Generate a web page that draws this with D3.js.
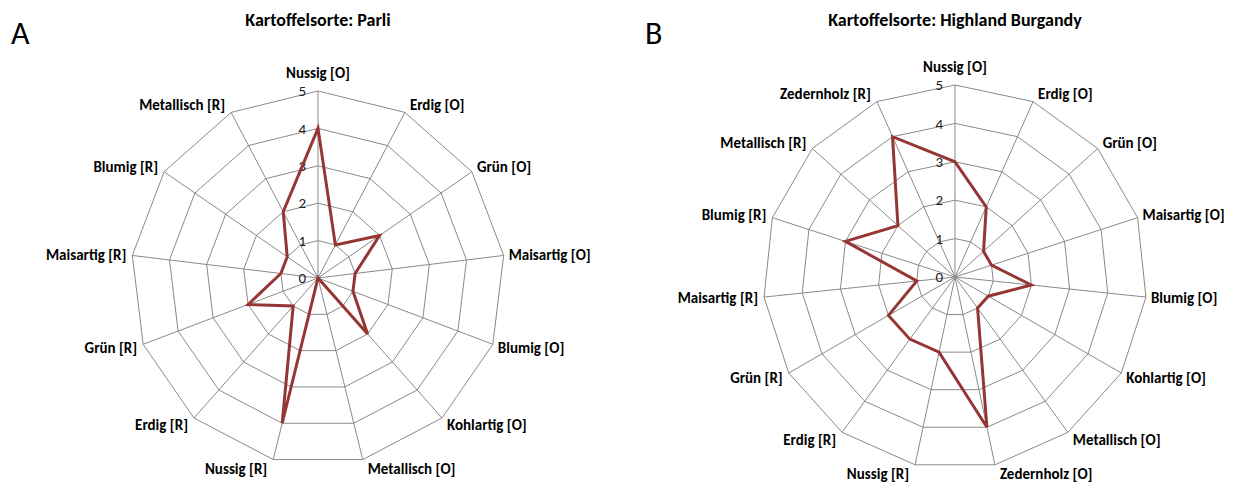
<!DOCTYPE html>
<html>
<head>
<meta charset="utf-8">
<script src="https://cdn.jsdelivr.net/npm/d3@7"></script>
<style>
  body { margin: 0; background: #fff; }
  svg { display: block; font-family: Carlito, Lato, "Open Sans", sans-serif; }
</style>
</head>
<body>
<div id="chart"></div>
<script>
// data
const ticks = [0, 1, 2, 3, 4, 5];

const axesA = ["Nussig [O]", "Erdig [O]", "Grün [O]", "Maisartig [O]", "Blumig [O]", "Kohlartig [O]",
  "Metallisch [O]", "Nussig [R]", "Erdig [R]", "Grün [R]", "Maisartig [R]", "Blumig [R]", "Metallisch [R]"];
const valuesA = [4, 1, 2, 1, 1, 2, 0, 4, 1, 2, 1, 1, 2];

const axesB = ["Nussig [O]", "Erdig [O]", "Grün [O]", "Maisartig [O]", "Blumig [O]", "Kohlartig [O]",
  "Metallisch [O]", "Zedernholz [O]", "Nussig [R]", "Erdig [R]", "Grün [R]", "Maisartig [R]",
  "Blumig [R]", "Metallisch [R]", "Zedernholz [R]"];
const valuesB = [3, 2, 1, 1, 2, 1, 1, 4, 2, 2, 2, 1, 3, 2, 4];

const W = 1245, H = 485;
const svg = d3.select("#chart").append("svg")
  .attr("width", W)
  .attr("height", H);

function drawRadar(opts) {
  const { cx, cy, R, axes, values, title, letter, letterX } = opts;
  const n = axes.length;

  const r = d3.scaleLinear().domain([0, d3.max(ticks)]).range([0, R]);
  const angle = d3.scaleLinear().domain([0, n]).range([0, 2 * Math.PI]);

  svg.append("text")
    .attr("x", letterX)
    .attr("y", 44)
    .style("font-size", "32px")
    .style("fill", "#000")
    .text(letter);

  svg.append("text")
    .attr("x", cx)
    .attr("y", 26)
    .attr("text-anchor", "middle")
    .style("font-size", "18px")
    .style("font-weight", "bold")
    .style("fill", "#000")
    .text(title);

  const g = svg.append("g").attr("transform", `translate(${cx},${cy})`);

  // rings
  const ring = d3.lineRadial()
    .angle((d, i) => angle(i))
    .radius(d => r(d))
    .curve(d3.curveLinearClosed);

  g.selectAll(".ring")
    .data(ticks.filter(t => t > 0))
    .enter()
    .append("path")
    .attr("class", "ring")
    .attr("d", t => ring(axes.map(() => t)))
    .attr("fill", "none")
    .attr("stroke", "#8a8a8a")
    .attr("stroke-width", 1);

  // spokes
  g.selectAll(".spoke")
    .data(axes)
    .enter()
    .append("line")
    .attr("class", "spoke")
    .attr("x1", 0).attr("y1", 0)
    .attr("x2", (d, i) => r(5) * Math.sin(angle(i)))
    .attr("y2", (d, i) => -r(5) * Math.cos(angle(i)))
    .attr("stroke", "#8a8a8a")
    .attr("stroke-width", 1);

  // tick labels
  g.selectAll(".tick-label")
    .data(ticks)
    .enter()
    .append("text")
    .attr("class", "tick-label")
    .attr("x", -12)
    .attr("y", d => -r(d))
    .attr("dy", "0.35em")
    .attr("text-anchor", "end")
    .style("font-size", "15px")
    .style("fill", "#222")
    .text(d => d);

  // series
  g.append("path")
    .datum(values)
    .attr("d", ring)
    .attr("fill", "none")
    .attr("stroke", "#963634")
    .attr("stroke-width", 3)
    .attr("stroke-linejoin", "miter");

  // axis labels
  g.selectAll(".axis-label")
    .data(axes)
    .enter()
    .append("text")
    .attr("class", "axis-label")
    .each(function(d, i) {
      const a = angle(i);
      const s = Math.sin(a), c = Math.cos(a);
      const ex = r(5) * s, ey = -r(5) * c;
      const mid = Math.abs(s) < 0.05;
      const anchor = mid ? "middle" : (s > 0 ? "start" : "end");
      const x = ex + (mid ? 0 : (s > 0 ? 5 : -6));
      const y = ey - c * (mid ? 18 : 9);
      d3.select(this)
        .attr("x", x)
        .attr("y", y)
        .attr("dy", "0.35em")
        .attr("text-anchor", anchor)
        .style("font-size", "15px")
        .style("font-weight", "bold")
        .style("fill", "#000")
        .text(d);
    });
}

drawRadar({ cx: 318, cy: 278, R: 187, axes: axesA, values: valuesA,
  title: "Kartoffelsorte: Parli", letter: "A", letterX: 11 });
drawRadar({ cx: 955, cy: 277, R: 192, axes: axesB, values: valuesB,
  title: "Kartoffelsorte: Highland Burgandy", letter: "B", letterX: 645 });
</script>
</body>
</html>
